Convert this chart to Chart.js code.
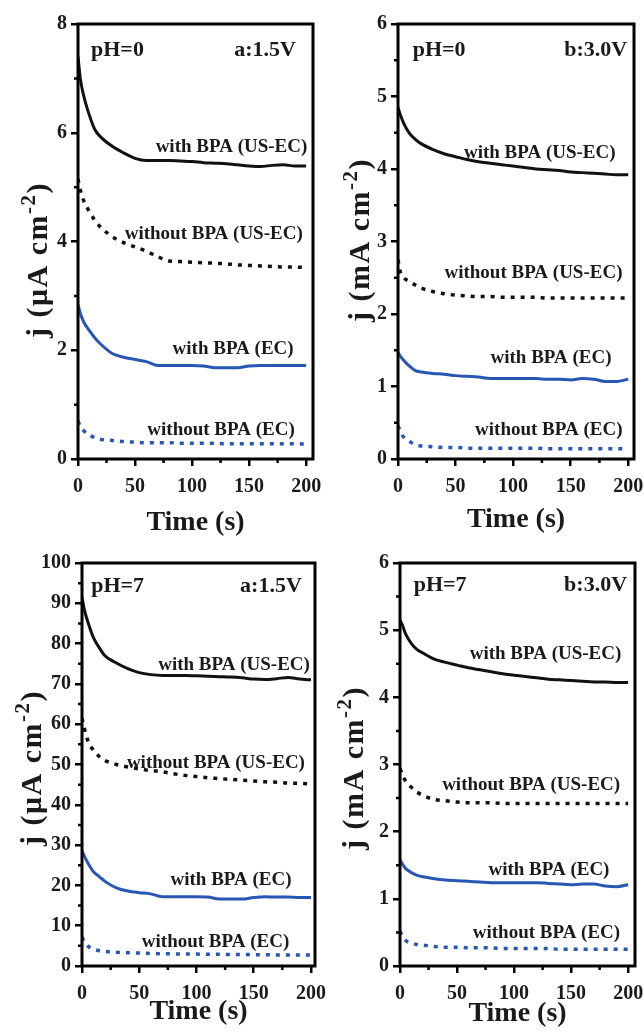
<!DOCTYPE html>
<html>
<head>
<meta charset="utf-8">
<script src="https://cdn.jsdelivr.net/npm/chart.js@4.4.0/dist/chart.umd.min.js"></script>
<style>
  html, body { margin: 0; padding: 0; background: #fff; }
  #wrap { position: relative; width: 644px; height: 1034px; overflow: hidden; }
  canvas { position: absolute; }
</style>
</head>
<body>
<div id="wrap">
  <canvas id="c1" width="340" height="545" style="left:0;top:0"></canvas>
  <canvas id="c2" width="322" height="545" style="left:322px;top:0"></canvas>
  <canvas id="c3" width="340" height="504" style="left:0;top:530px"></canvas>
  <canvas id="c4" width="322" height="504" style="left:322px;top:530px"></canvas>
</div>
<script>
// time axis shared by every curve (s)
const time = [0, 2, 5, 10, 15, 20, 30, 40, 50, 60, 70, 80, 90, 100, 110, 120, 130, 140, 150, 160, 170, 180, 190, 200];
const seriesNames = ['with BPA (US-EC)', 'without BPA (US-EC)', 'with BPA (EC)', 'without BPA (EC)'];

// pH=0, a:1.5V  (uA cm-2)
const ph0a_withUS    = [7.40, 7.00, 6.68, 6.32, 6.05, 5.92, 5.75, 5.63, 5.53, 5.49, 5.49, 5.49, 5.48, 5.47, 5.45, 5.44, 5.43, 5.41, 5.39, 5.38, 5.40, 5.41, 5.39, 5.39];
const ph0a_withoutUS = [5.15, 4.95, 4.75, 4.55, 4.38, 4.26, 4.09, 3.98, 3.90, 3.82, 3.72, 3.64, 3.63, 3.62, 3.61, 3.60, 3.59, 3.57, 3.56, 3.55, 3.54, 3.53, 3.53, 3.52];
const ph0a_withEC    = [2.84, 2.68, 2.52, 2.36, 2.22, 2.11, 1.94, 1.87, 1.83, 1.79, 1.72, 1.72, 1.72, 1.72, 1.71, 1.68, 1.68, 1.68, 1.71, 1.72, 1.72, 1.72, 1.72, 1.72];
const ph0a_withoutEC = [0.70, 0.60, 0.52, 0.44, 0.39, 0.36, 0.34, 0.32, 0.31, 0.30, 0.30, 0.30, 0.29, 0.29, 0.29, 0.29, 0.28, 0.28, 0.28, 0.28, 0.28, 0.28, 0.28, 0.275];

// pH=0, b:3.0V  (mA cm-2)
const ph0b_withUS    = [4.85, 4.75, 4.63, 4.49, 4.41, 4.35, 4.27, 4.21, 4.17, 4.13, 4.10, 4.08, 4.06, 4.04, 4.02, 4.00, 3.99, 3.98, 3.96, 3.95, 3.94, 3.93, 3.92, 3.92];
const ph0b_withoutUS = [2.75, 2.58, 2.50, 2.45, 2.40, 2.36, 2.31, 2.28, 2.26, 2.25, 2.24, 2.24, 2.23, 2.23, 2.23, 2.23, 2.22, 2.22, 2.22, 2.22, 2.22, 2.22, 2.22, 2.22];
const ph0b_withEC    = [1.47, 1.42, 1.36, 1.28, 1.22, 1.20, 1.18, 1.17, 1.15, 1.14, 1.13, 1.11, 1.11, 1.11, 1.11, 1.11, 1.10, 1.10, 1.09, 1.11, 1.10, 1.07, 1.07, 1.10];
const ph0b_withoutEC = [0.46, 0.38, 0.30, 0.24, 0.20, 0.18, 0.17, 0.16, 0.16, 0.15, 0.15, 0.15, 0.15, 0.15, 0.15, 0.15, 0.14, 0.14, 0.14, 0.14, 0.14, 0.14, 0.14, 0.14];

// pH=7, a:1.5V  (uA cm-2)
const ph7a_withUS    = [91.5, 88.5, 85.5, 81.5, 79.0, 77.0, 75.2, 73.8, 72.8, 72.3, 72.1, 72.1, 72.1, 72.0, 71.9, 71.8, 71.7, 71.5, 71.2, 71.1, 71.3, 71.6, 71.2, 71.0];
const ph7a_withoutUS = [61.5, 59.0, 56.0, 53.5, 52.0, 51.0, 50.0, 49.4, 48.9, 48.5, 48.2, 47.7, 47.3, 47.0, 46.7, 46.5, 46.3, 46.1, 45.9, 45.7, 45.6, 45.4, 45.3, 45.2];
const ph7a_withEC    = [28.6, 27.3, 25.6, 23.4, 22.2, 21.0, 19.4, 18.6, 18.2, 17.9, 17.2, 17.2, 17.2, 17.2, 17.1, 16.6, 16.6, 16.6, 17.0, 17.2, 17.1, 17.1, 17.0, 17.0];
const ph7a_withoutEC = [7.2, 6.0, 5.0, 4.2, 3.8, 3.6, 3.4, 3.3, 3.2, 3.1, 3.05, 3.0, 3.0, 2.95, 2.9, 2.9, 2.85, 2.85, 2.8, 2.8, 2.75, 2.75, 2.7, 2.7];

// pH=7, b:3.0V  (mA cm-2)
const ph7b_withUS    = [5.15, 5.08, 4.94, 4.80, 4.71, 4.66, 4.57, 4.52, 4.48, 4.44, 4.41, 4.38, 4.35, 4.33, 4.31, 4.29, 4.27, 4.26, 4.25, 4.24, 4.23, 4.23, 4.22, 4.22];
const ph7b_withoutUS = [2.94, 2.85, 2.75, 2.66, 2.59, 2.54, 2.48, 2.46, 2.44, 2.43, 2.43, 2.43, 2.42, 2.42, 2.42, 2.42, 2.42, 2.42, 2.42, 2.42, 2.42, 2.42, 2.42, 2.42];
const ph7b_withEC    = [1.58, 1.52, 1.45, 1.39, 1.35, 1.33, 1.30, 1.28, 1.27, 1.26, 1.25, 1.24, 1.24, 1.24, 1.24, 1.24, 1.23, 1.22, 1.21, 1.22, 1.22, 1.19, 1.18, 1.21];
const ph7b_withoutEC = [0.52, 0.45, 0.38, 0.34, 0.32, 0.31, 0.29, 0.28, 0.28, 0.27, 0.27, 0.27, 0.26, 0.26, 0.26, 0.26, 0.26, 0.25, 0.25, 0.25, 0.25, 0.25, 0.25, 0.25];

// tick labels
const xTicks = [0, 50, 100, 150, 200];
const xMinor = [25, 75, 125, 175];
const yTicks8 = [0, 2, 4, 6, 8];
const yMinor8 = [1, 3, 5, 7];
const yTicks6 = [0, 1, 2, 3, 4, 5, 6];
const yMinor6 = [0.5, 1.5, 2.5, 3.5, 4.5, 5.5];
const yTicks100 = [0, 10, 20, 30, 40, 50, 60, 70, 80, 90, 100];
const yMinor100 = [5, 15, 25, 35, 45, 55, 65, 75, 85, 95];

const FONT = "'Liberation Serif', 'Times New Roman', serif";
const BLACK = '#111';
const BLUE = '#2856b4';

// draws box frame, minor ticks, the y title (with real superscript) and the in-plot text
const extras = {
  id: 'extras',
  afterDraw(chart) {
    const o = chart.options.plugins.extras;
    const {ctx, chartArea: a} = chart;
    const xs = chart.scales.x, ys = chart.scales.y;
    ctx.save();
    ctx.strokeStyle = '#000';
    ctx.lineWidth = 3;
    ctx.strokeRect(a.left, a.top, a.right - a.left, a.bottom - a.top);
    ctx.lineWidth = 2.5;
    ctx.beginPath();
    o.xMinor.forEach(v => {
      const px = xs.getPixelForValue(v);
      ctx.moveTo(px, a.bottom); ctx.lineTo(px, a.bottom + 4);
    });
    o.yMinor.forEach(v => {
      const py = ys.getPixelForValue(v);
      ctx.moveTo(a.left, py); ctx.lineTo(a.left - 4, py);
    });
    ctx.stroke();

    ctx.fillStyle = '#1a1a1a';
    ctx.textBaseline = 'middle';
    o.notes.forEach(n => {
      ctx.font = 'bold ' + n.size + 'px ' + FONT;
      ctx.textAlign = n.align;
      ctx.fillText(n.text, xs.getPixelForValue(n.t), ys.getPixelForValue(n.j));
    });

    // y axis title, rotated
    const yt = o.yTitle;
    const parts = [
      {t: yt.text, f: 'bold 30px ' + FONT, dy: 0},
      {t: '-2', f: 'bold 21px ' + FONT, dy: -12},
      {t: ')', f: 'bold 30px ' + FONT, dy: 0}
    ];
    ctx.translate(yt.x, yt.y);
    ctx.rotate(-Math.PI / 2);
    ctx.textBaseline = 'alphabetic';
    ctx.textAlign = 'left';
    ctx.letterSpacing = '1.5px';
    let total = 0;
    parts.forEach(p => { ctx.font = p.f; p.w = ctx.measureText(p.t).width; total += p.w; });
    let cx = -total / 2;
    parts.forEach(p => { ctx.font = p.f; ctx.fillText(p.t, cx, p.dy); cx += p.w; });
    ctx.letterSpacing = '0px';
    ctx.restore();
  }
};

function panel(id, g, yCfg, values, notes) {
  const styles = [
    {color: BLACK, dash: []},
    {color: BLACK, dash: [4, 6]},
    {color: BLUE, dash: []},
    {color: BLUE, dash: [4, 6]}
  ];
  return new Chart(document.getElementById(id), {
    type: 'line',
    data: {
      datasets: values.map((vals, i) => ({
        label: seriesNames[i],
        data: time.map((t, k) => ({x: t, y: vals[k]})),
        borderColor: styles[i].color,
        borderDash: styles[i].dash,
        borderWidth: styles[i].dash.length ? 3.5 : 3,
        pointRadius: 0,
        fill: false,
        cubicInterpolationMode: 'monotone'
      }))
    },
    options: {
      responsive: false,
      animation: false,
      layout: {padding: {top: g.top, right: g.right, left: 0, bottom: 0}},
      plugins: {
        legend: {display: false},
        tooltip: {enabled: false},
        extras: {xMinor: xMinor, yMinor: yCfg.minor, notes: notes,
                 yTitle: {text: yCfg.title, x: g.yTitleX, y: g.yTitleY}}
      },
      scales: {
        x: {
          type: 'linear',
          min: 0, max: g.xMax,
          afterFit: s => { s.height = g.xH; s.paddingLeft = 0; s.paddingRight = 0; },
          afterBuildTicks: s => { s.ticks = xTicks.map(v => ({value: v})); },
          grid: {drawOnChartArea: false, drawTicks: true, tickLength: 7, color: '#000', lineWidth: 2.5},
          border: {display: false},
          ticks: {color: '#1a1a1a', padding: 9, maxRotation: 0, font: {family: FONT, size: 20, weight: 'bold'}},
          title: {display: true, text: 'Time (s)', color: '#1a1a1a',
                  font: {family: FONT, size: 28, weight: 'bold', lineHeight: 1},
                  padding: {top: 0, bottom: g.xTitlePad}}
        },
        y: {
          min: yCfg.min, max: yCfg.max,
          afterFit: s => { s.width = g.yW; s.paddingTop = 0; s.paddingBottom = 0; },
          afterBuildTicks: s => { s.ticks = yCfg.ticks.map(v => ({value: v})); },
          grid: {drawOnChartArea: false, drawTicks: true, tickLength: 7, color: '#000', lineWidth: 2.5},
          border: {display: false},
          ticks: {color: '#1a1a1a', padding: 4, font: {family: FONT, size: 20, weight: 'bold'}},
          title: {display: false}
        }
      }
    },
    plugins: [extras]
  });
}

const note = (text, t, j, align, size) => ({text, t, j, align: align || 'right', size: size || 19});

panel('c1', {top: 24, right: 27, yW: 78, xH: 86, xMax: 206, xTitlePad: 8, yTitleX: 47, yTitleY: 260},
  {min: 0, max: 8, ticks: yTicks8, minor: yMinor8, title: 'j (\u03bcA cm'},
  [ph0a_withUS, ph0a_withoutUS, ph0a_withEC, ph0a_withoutEC],
  [note('pH=0', 11.4, 7.52, 'left', 22), note('a:1.5V', 191, 7.52, 'right', 22),
   note('with BPA (US-EC)', 201, 5.74), note('without BPA (US-EC)', 197, 4.13),
   note('with BPA (EC)', 189, 2.02), note('without BPA (EC)', 190, 0.53)]);

panel('c2', {top: 24, right: 10, yW: 76, xH: 86, xMax: 205, xTitlePad: 11, yTitleX: 47, yTitleY: 240},
  {min: 0, max: 6, ticks: yTicks6, minor: yMinor6, title: 'j (mA cm'},
  [ph0b_withUS, ph0b_withoutUS, ph0b_withEC, ph0b_withoutEC],
  [note('pH=0', 12.8, 5.64, 'left', 22), note('b:3.0V', 199, 5.64, 'right', 22),
   note('with BPA (US-EC)', 189, 4.22), note('without BPA (US-EC)', 195, 2.56),
   note('with BPA (EC)', 185.5, 1.39), note('without BPA (EC)', 195, 0.40)]);

panel('c3', {top: 33, right: 25, yW: 82, xH: 68, xMax: 203.5, xTitlePad: 8, yTitleX: 41, yTitleY: 238},
  {min: 0, max: 100, ticks: yTicks100, minor: yMinor100, title: 'j (\u03bcA cm'},
  [ph7a_withUS, ph7a_withoutUS, ph7a_withEC, ph7a_withoutEC],
  [note('pH=7', 8, 94.1, 'left', 22), note('a:1.5V', 192, 94.1, 'right', 22),
   note('with BPA (US-EC)', 199, 74.7), note('without BPA (US-EC)', 194.7, 50.3),
   note('with BPA (EC)', 183, 21.3), note('without BPA (EC)', 181, 6.0)]);

panel('c4', {top: 33, right: 9, yW: 78, xH: 68, xMax: 206, xTitlePad: 6, yTitleX: 41, yTitleY: 238},
  {min: 0, max: 6, ticks: yTicks6, minor: yMinor6, title: 'j (mA cm'},
  [ph7b_withUS, ph7b_withoutUS, ph7b_withEC, ph7b_withoutEC],
  [note('pH=7', 12, 5.67, 'left', 22), note('b:3.0V', 199, 5.67, 'right', 22),
   note('with BPA (US-EC)', 194, 4.65), note('without BPA (US-EC)', 193, 2.69),
   note('with BPA (EC)', 183.6, 1.43), note('without BPA (EC)', 193, 0.49)]);
</script>
</body>
</html>
